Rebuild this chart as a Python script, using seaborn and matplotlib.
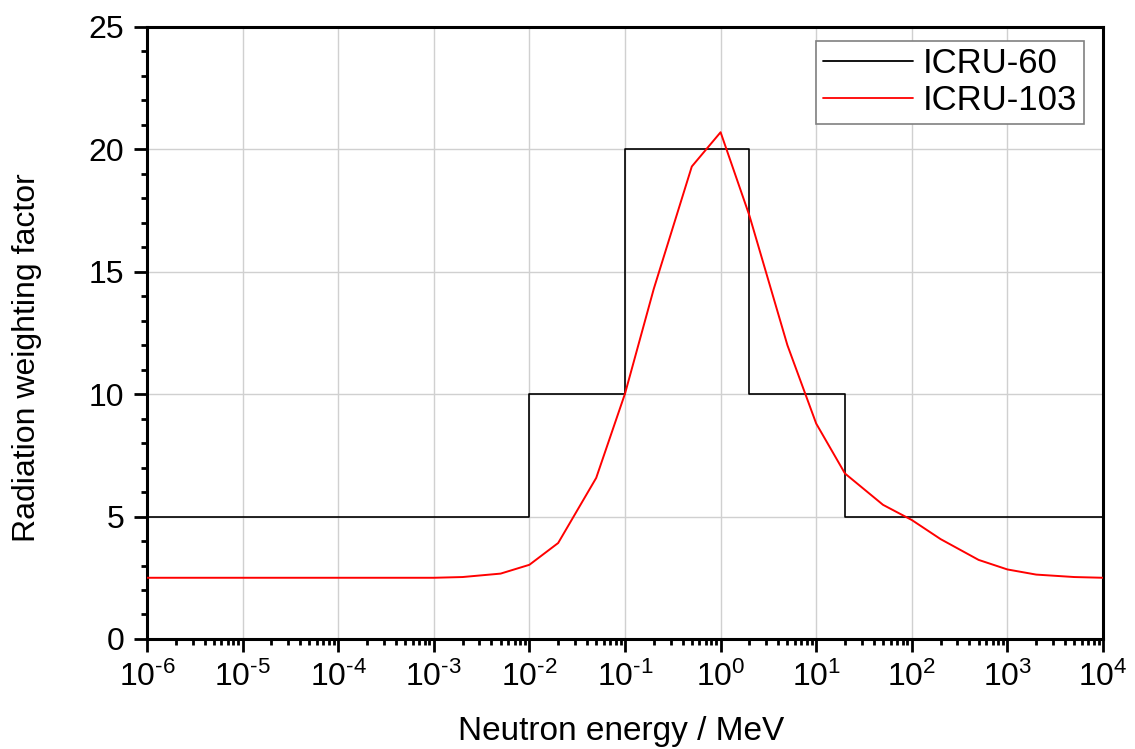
import matplotlib
matplotlib.use("Agg")
import matplotlib.pyplot as plt
import matplotlib.ticker as mticker
import numpy as np
import pandas as pd
import seaborn as sns

# ICRU-60 step function (value holds until next energy)
icru60_energy = [1e-6, 1e-2, 1e-1, 2.0, 20.0, 1e4]
icru60_factor = [5, 10, 20, 10, 5, 5]

# ICRU-103 curve
icru103_energy = [1e-6, 1e-3, 2e-3, 5e-3, 1e-2, 2e-2, 5e-2, 0.1, 0.2, 0.5, 1.0,
                  2.0, 5.0, 10.0, 20.0, 50.0, 100.0, 200.0, 500.0, 1000.0,
                  2000.0, 5000.0, 1e4]
icru103_factor = [2.50, 2.50, 2.53, 2.67, 3.03, 3.92, 6.58, 10.02, 14.3, 19.3, 20.7,
                  17.3, 12.0, 8.8, 6.76, 5.48, 4.86, 4.08, 3.23, 2.84,
                  2.63, 2.53, 2.50]

series_names = ["ICRU-60", "ICRU-103"]
y_ticks = [0, 5, 10, 15, 20, 25]
x_label = "Neutron energy / MeV"
y_label = "Radiation weighting factor"

sns.set_theme(style="ticks")
plt.rcParams["font.family"] = ["Liberation Sans", "DejaVu Sans"]
plt.rcParams["mathtext.fontset"] = "custom"
plt.rcParams["mathtext.rm"] = "Liberation Sans"
plt.rcParams["mathtext.it"] = "Liberation Sans"
plt.rcParams["mathtext.bf"] = "Liberation Sans"
plt.rcParams["text.color"] = "black"
plt.rcParams["axes.labelcolor"] = "black"

fig = plt.figure(figsize=(11.35, 7.49), dpi=100)
ax = fig.add_axes([0.1295, 0.1469, 0.9718 - 0.1295, 0.964 - 0.1469])

df60 = pd.DataFrame({"energy": icru60_energy, "factor": icru60_factor})
df103 = pd.DataFrame({"energy": icru103_energy, "factor": icru103_factor})

sns.lineplot(data=df60, x="energy", y="factor", ax=ax, color="black",
             linewidth=1.2, drawstyle="steps-post", label=series_names[0], zorder=3)
sns.lineplot(data=df103, x="energy", y="factor", ax=ax, color="red",
             linewidth=1.4, label=series_names[1], zorder=4)

ax.set_xscale("log")
ax.set_xlim(1e-6, 1e4)
ax.set_ylim(0, 25)
ax.set_yticks(y_ticks)
ax.yaxis.set_minor_locator(mticker.MultipleLocator(1))
ax.xaxis.set_major_locator(mticker.LogLocator(base=10, numticks=20))
ax.xaxis.set_minor_locator(mticker.LogLocator(base=10, subs=np.arange(2, 10), numticks=20))
ax.xaxis.set_minor_formatter(mticker.NullFormatter())


def fmt_pow(v, p):
    e = int(round(np.log10(v)))
    if e < 0:
        return r"$\mathregular{10^{\text{-}%d}}$" % (-e)
    return r"$\mathregular{10^{%d}}$" % e


ax.xaxis.set_major_formatter(mticker.FuncFormatter(fmt_pow))

ax.grid(True, which="major", color="#d0d0d0", linewidth=1.0, zorder=0)
ax.set_axisbelow(True)

for s in ax.spines.values():
    s.set_linewidth(2.2)
    s.set_color("black")
    s.set_visible(True)

ax.tick_params(which="major", direction="out", length=9.5, width=2.0,
               labelsize=23, colors="black", pad=7)
ax.tick_params(which="minor", direction="out", length=4.5, width=2.0, colors="black")
ax.tick_params(axis="x", which="major", pad=7)

ax.set_xlabel(x_label, fontsize=24)
ax.set_ylabel(y_label, fontsize=23)
ax.xaxis.set_label_coords(0.496, (639 - 716) / 612)
ax.yaxis.set_label_coords((42 - 147) / 956, 0.46)

leg = ax.legend(loc="upper right", bbox_to_anchor=(0.980, 0.977),
                borderaxespad=0.0, fontsize=25, frameon=True, fancybox=False,
                edgecolor="#808080", framealpha=1.0, handlelength=2.6,
                borderpad=0.18, labelspacing=0.12, handletextpad=0.3)
leg.get_frame().set_linewidth(1.2)
for line in leg.get_lines():
    line.set_linewidth(1.3)

fig.savefig("out.png", dpi=100)
